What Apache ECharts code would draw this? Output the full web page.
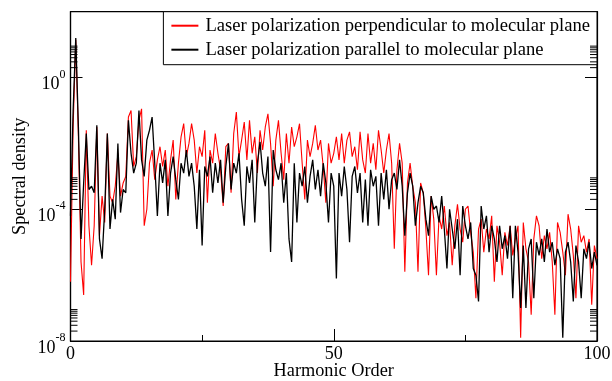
<!DOCTYPE html>
<html style="height:100%">
<head>
    <meta charset="UTF-8">
    <title>Spectral density</title>
    <script src="https://cdn.jsdelivr.net/npm/echarts@6/dist/echarts.min.js"></script>
</head>
<body style="height:100%;margin:0">
<div id="main" style="width:612px;height:381px"></div>
<script>
    // harmonic order is sampled every 0.5, spectral density stored as log10 values
    var STEP = 0.5;
    var seriesNames = ['Laser polarization perpendicular to molecular plane',
        'Laser polarization parallel to molecular plane'];
    var perpLog10 = [
        -6.2, -1.5, 1.15, -1.8, -5.6, -6.6, -1.6, -4.5, -5.7, -4.5,
        -1.5, -4.8, -3.6, -4.4, -1.7, -3.6, -3.8, -3.3, -2.3, -3.6,
        -3.2, -3.0, -1.2, -1.0, -2.7, -2.4, -1.3, -0.95, -4.5, -4.0,
        -2.6, -2.2, -3.1, -2.5, -2.1, -2.7, -2.2, -3.3, -2.5, -1.9,
        -3.7, -2.6, -1.8, -1.4, -2.4, -2.0, -1.4, -1.9, -2.9, -2.1,
        -2.4, -1.6, -3.8, -2.2, -2.6, -1.7, -2.3, -2.8, -3.9, -2.1,
        -2.0, -3.5, -1.7, -1.05, -2.4, -1.9, -1.35, -2.5, -1.3, -2.3,
        -1.8, -2.9, -1.6, -2.2, -1.5, -1.1, -2.0, -3.3, -1.9, -1.3,
        -2.3, -3.1, -1.7, -2.6, -1.5, -2.1, -1.8, -1.4, -2.6, -3.7,
        -1.9, -2.4, -2.0, -1.45, -2.2, -1.9, -2.7, -3.8, -2.0, -2.6,
        -2.3, -1.8, -2.5, -1.7, -2.6, -1.9, -1.65, -2.4, -2.1, -2.8,
        -1.65, -2.5, -2.9, -1.7, -2.6, -2.0, -2.8, -1.6, -2.2, -2.9,
        -2.2, -1.7, -2.6, -5.2, -2.8, -2.0, -2.6, -5.9, -3.2, -2.6,
        -3.3, -3.8, -5.9, -3.2, -3.5, -4.6, -6.0, -3.6, -4.3, -6.0,
        -4.2, -4.6, -3.9, -4.8, -4.4, -5.7, -4.5, -3.85, -4.6, -5.0,
        -4.0, -3.9, -4.7, -5.3, -6.7, -4.6, -4.3, -5.3, -4.6, -4.9,
        -4.2, -6.2, -4.5, -5.0, -6.0, -4.7, -5.1, -4.5, -5.4, -4.9,
        -4.5, -7.9, -4.4, -5.2, -5.6, -7.2, -4.9, -4.2, -4.5, -5.5,
        -4.8, -5.2, -4.7, -5.6, -7.2, -4.4, -4.7, -5.3, -6.0, -4.15,
        -4.6, -5.4, -6.7, -4.5, -5.0, -4.8, -5.3, -4.9, -6.9, -5.1,
        -5.5
    ];
    var parLog10 = [
        -4.2, -1.0, 1.2, -1.5, -4.9, -3.2, -1.7, -3.4, -3.3, -3.5,
        -1.45, -4.9, -5.5, -4.0, -1.7, -4.6, -3.7, -4.3, -2.0, -4.1,
        -3.4, -3.5, -1.3, -2.3, -2.9, -2.6, -1.0, -2.5, -3.0, -1.9,
        -1.6, -1.2, -2.6, -4.2, -2.6, -3.2, -2.5, -4.2, -2.9, -2.4,
        -3.1, -3.7, -2.6, -2.9, -2.2, -3.0, -2.6, -3.3, -4.6, -2.8,
        -5.1, -2.7, -3.0, -2.4, -3.5, -2.6, -3.2, -2.5, -3.8, -2.7,
        -2.0, -3.4, -2.6, -2.9, -2.3, -3.7, -4.5, -2.7, -3.2, -2.5,
        -4.4, -2.6, -1.95, -2.9, -3.3, -2.4, -5.3, -2.2, -2.8, -3.1,
        -2.6, -3.8, -2.9, -4.9, -5.6, -2.6, -4.4, -2.9, -3.3, -2.7,
        -3.8, -3.0, -2.5, -3.4, -2.8, -3.6, -2.6, -3.2, -4.4, -2.9,
        -3.3, -6.1, -2.9, -3.6, -2.7, -3.4, -5.0, -3.0, -2.7, -3.5,
        -2.9, -4.4, -3.1, -4.5, -2.8, -3.3, -3.0, -4.5, -2.9, -3.7,
        -2.8, -4.0, -3.1, -2.9, -3.4, -2.5, -3.3, -4.8, -3.5, -2.9,
        -3.3, -4.5, -3.8, -3.3, -3.5, -4.3, -4.8, -3.6, -4.0, -3.9,
        -4.4, -3.6, -4.6, -5.8, -4.0, -4.6, -5.2, -4.3, -6.0, -3.9,
        -4.5, -4.9, -4.4, -5.8, -6.0, -6.8, -3.9, -4.6, -4.2, -5.3,
        -4.5, -4.9, -5.6, -4.5, -5.2, -4.8, -5.5, -4.5, -6.7, -4.5,
        -5.3, -7.0, -5.1, -7.0, -5.2, -4.9, -6.7, -5.0, -5.4, -4.9,
        -5.6, -4.6, -5.3, -5.0, -5.7, -5.2, -5.5, -7.9, -5.3, -5.0,
        -5.6, -6.8, -5.1, -5.6, -6.7, -5.2, -5.5, -5.0, -5.8, -5.3,
        -5.7
    ];
    var labeledDecades = [-8, -4, 0];

    // log minor ticks (2..9 x 10^d) next to each labelled decade
    var minorTickLog = [];
    labeledDecades.forEach(function (d) {
        for (var k = 2; k <= 9; k++) minorTickLog.push([0, d + Math.log10(k)]);
    });

    function pairs(vals) {
        return vals.map(function (v, i) { return [i * STEP, v]; });
    }

    var FONT = 'Liberation Serif';
    var chart = echarts.init(document.getElementById('main'), null, { renderer: 'canvas' });

    var yAxisBase = {
        type: 'value',
        min: -8,
        max: 2,
        interval: 4,
        axisLine: { show: true, onZero: false, lineStyle: { color: '#000', width: 1.2 } },
        axisTick: { show: true, inside: true, length: 12, lineStyle: { color: '#000' } },
        splitLine: { show: false }
    };

    var option = {
        animation: false,
        backgroundColor: '#fff',
        grid: {
            left: 70.5, right: 15, top: 11.7, bottom: 40,
            outerBoundsMode: 'none',
            containLabel: false,
            show: true, borderColor: '#000', borderWidth: 1.2, backgroundColor: 'transparent'
        },
        legend: {
            data: seriesNames,
            orient: 'vertical',
            right: 15,
            top: 11.7,
            padding: [4, 7, 5, 7],
            itemGap: 4,
            itemWidth: 27,
            itemHeight: 16,
            borderColor: '#000',
            borderWidth: 1,
            backgroundColor: '#fff',
            itemStyle: { opacity: 0 },
            textStyle: { fontFamily: FONT, fontSize: 18.6, lineHeight: 20, color: '#000', padding: [0, 0, 0, 2] }
        },
        xAxis: {
            type: 'value',
            min: 0,
            max: 100,
            interval: 50,
            name: 'Harmonic Order',
            nameLocation: 'middle',
            nameGap: 21,
            nameMoveOverlap: false,
            nameTextStyle: { fontFamily: FONT, fontSize: 18.3, color: '#000' },
            axisLine: { show: true, onZero: false, lineStyle: { color: '#000', width: 1.2 } },
            axisTick: { show: true, inside: true, length: 12, lineStyle: { color: '#000' } },
            minorTick: { show: true, splitNumber: 2, length: 6, lineStyle: { color: '#000' } },
            axisLabel: { fontFamily: FONT, fontSize: 18, color: '#000', margin: 4 },
            splitLine: { show: false }
        },
        yAxis: [
            Object.assign({}, yAxisBase, {
                position: 'left',
                name: 'Spectral density',
                nameLocation: 'middle',
                nameGap: 41,
                nameMoveOverlap: false,
                nameTextStyle: { fontFamily: FONT, fontSize: 18.3, color: '#000' },
                axisLabel: {
                    margin: 5,
                    showMaxLabel: false,
                    formatter: function (v) {
                        return labeledDecades.indexOf(v) < 0 ? '' : '{b|10}{sup|' + v + '}';
                    },
                    rich: {
                        b: { fontFamily: FONT, fontSize: 18, color: '#000', padding: [14, 0, 0, 0] },
                        sup: { fontFamily: FONT, fontSize: 12, color: '#000', verticalAlign: 'top', padding: [7, 0, 0, 0] }
                    }
                }
            }),
            Object.assign({}, yAxisBase, {
                position: 'right',
                axisLabel: { show: false }
            })
        ],
        series: [
            {
                name: seriesNames[0],
                type: 'line',
                data: pairs(perpLog10),
                symbol: 'none',
                lineStyle: { color: '#ff0000', width: 1.1 },
                itemStyle: { color: '#ff0000' },
                z: 2
            },
            {
                name: seriesNames[1],
                type: 'line',
                data: pairs(parLog10),
                symbol: 'none',
                lineStyle: { color: '#000', width: 1.3 },
                itemStyle: { color: '#000' },
                z: 3
            },
            {
                type: 'custom',
                silent: true,
                data: minorTickLog,
                z: 4,
                renderItem: function (params, api) {
                    var v = api.value(1);
                    var l = api.coord([0, v]);
                    var r = api.coord([100, v]);
                    return {
                        type: 'group',
                        children: [
                            { type: 'line', shape: { x1: l[0], y1: l[1], x2: l[0] + 7, y2: l[1] }, style: { stroke: '#000', lineWidth: 1 } },
                            { type: 'line', shape: { x1: r[0] - 7, y1: r[1], x2: r[0], y2: r[1] }, style: { stroke: '#000', lineWidth: 1 } }
                        ]
                    };
                }
            }
        ]
    };
    chart.setOption(option);
</script>
</body>
</html>
